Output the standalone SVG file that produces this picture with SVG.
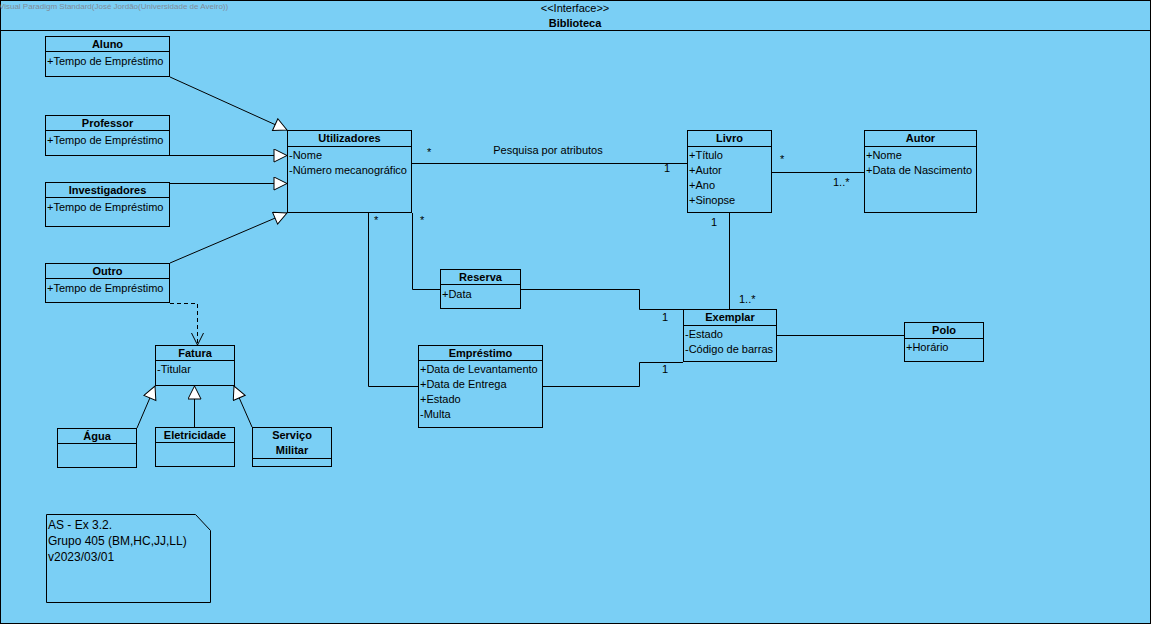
<svg xmlns="http://www.w3.org/2000/svg" width="1154" height="628" viewBox="0 0 1154 628">
<style>
text{font-family:"Liberation Sans",Arial,sans-serif;font-size:11px;fill:#000}
.t{font-weight:bold;text-anchor:middle}
.box{fill:#7acff5;stroke:#000;stroke-width:1}
.ln{fill:none;stroke:#000;stroke-width:1}
.dash{fill:none;stroke:#000;stroke-width:1;stroke-dasharray:4,3}
.m{font-size:11px}
</style>
<defs>
<marker id="gen" markerUnits="userSpaceOnUse" markerWidth="16" markerHeight="16" viewBox="0 0 16 16" refX="14" refY="7" orient="auto">
<path d="M1,0.5 L14,7 L1,13.5 Z" fill="#fff" stroke="#000" stroke-width="1"/>
</marker>
<marker id="open" markerUnits="userSpaceOnUse" markerWidth="16" markerHeight="16" viewBox="0 0 16 16" refX="13" refY="7" orient="auto">
<path d="M1,1 L13,7 L1,13" fill="none" stroke="#000" stroke-width="1"/>
</marker>
</defs>
<rect x="0" y="0" width="1154" height="628" fill="#fff"/>
<g id="frame">
<rect x="0.5" y="0.5" width="1150" height="623" fill="#7acff5" stroke="#000"/>
<line x1="0.5" y1="30.5" x2="1150.5" y2="30.5" stroke="#000"/>
<text x="-1" y="9" style="font-size:8px;fill:#7f8c99">Visual Paradigm Standard(José Jordão(Universidade de Aveiro))</text>
<text x="575" y="11.5" style="text-anchor:middle">&lt;&lt;Interface&gt;&gt;</text>
<text x="575" y="27" class="t">Biblioteca</text>
</g>
<g id="connectors">
<path class="ln" d="M170,77 L287,130" marker-end="url(#gen)"/>
<path class="ln" d="M170,155.5 L287,155.5" marker-end="url(#gen)"/>
<path class="ln" d="M170,183.5 L287,183.5" marker-end="url(#gen)"/>
<path class="ln" d="M170,263 L287,213" marker-end="url(#gen)"/>
<path class="ln" d="M137,428 L155,386" marker-end="url(#gen)"/>
<path class="ln" d="M194.5,427 L194.5,386" marker-end="url(#gen)"/>
<path class="ln" d="M252,427 L234,386" marker-end="url(#gen)"/>
<path class="dash" d="M170,303.5 L197.5,303.5 L197.5,345" marker-end="url(#open)"/>
<path class="ln" d="M412,163.5 L687,163.5"/>
<path class="ln" d="M772,172.5 L864,172.5"/>
<path class="ln" d="M729.5,213 L729.5,309"/>
<path class="ln" d="M412.5,213 L412.5,289.5 L440,289.5"/>
<path class="ln" d="M521,289.5 L639.5,289.5 L639.5,309.5 L683,309.5"/>
<path class="ln" d="M368.5,213 L368.5,386.5 L418,386.5"/>
<path class="ln" d="M543,386.5 L639.5,386.5 L639.5,362.5 L683,362.5"/>
<path class="ln" d="M777,335.5 L904,335.5"/>
<text x="548" y="154" style="text-anchor:middle">Pesquisa por atributos</text>
<text x="427" y="156" class="m">*</text>
<text x="664" y="172" class="m">1</text>
<text x="780" y="163" class="m">*</text>
<text x="833" y="186" class="m">1..*</text>
<text x="711" y="226" class="m">1</text>
<text x="739" y="303" class="m">1..*</text>
<text x="420" y="224" class="m">*</text>
<text x="374" y="224" class="m">*</text>
<text x="662" y="321" class="m">1</text>
<text x="662" y="373" class="m">1</text>
</g>
<g id="Aluno">
<rect class="box" x="45.5" y="36.5" width="124" height="40"/>
<line class="ln" x1="45.5" y1="51.5" x2="169.5" y2="51.5"/>
<text x="107.5" y="47.5" class="t">Aluno</text>
<text x="47" y="65">+Tempo de Empréstimo</text>
</g>
<g id="Professor">
<rect class="box" x="45.5" y="115.5" width="124" height="40"/>
<line class="ln" x1="45.5" y1="130.5" x2="169.5" y2="130.5"/>
<text x="107.5" y="126.5" class="t">Professor</text>
<text x="47" y="144">+Tempo de Empréstimo</text>
</g>
<g id="Investigadores">
<rect class="box" x="45.5" y="182.5" width="124" height="44"/>
<line class="ln" x1="45.5" y1="197.5" x2="169.5" y2="197.5"/>
<text x="107.5" y="193.5" class="t">Investigadores</text>
<text x="47" y="211">+Tempo de Empréstimo</text>
</g>
<g id="Outro">
<rect class="box" x="45.5" y="263.5" width="124" height="39"/>
<line class="ln" x1="45.5" y1="278.5" x2="169.5" y2="278.5"/>
<text x="107.5" y="274.5" class="t">Outro</text>
<text x="47" y="292">+Tempo de Empréstimo</text>
</g>
<g id="Utilizadores">
<rect class="box" x="287.5" y="130.5" width="124" height="82"/>
<line class="ln" x1="287.5" y1="146.5" x2="411.5" y2="146.5"/>
<text x="349.5" y="142" class="t">Utilizadores</text>
<text x="289" y="159">-Nome</text>
<text x="289" y="174">-Número mecanográfico</text>
</g>
<g id="Livro">
<rect class="box" x="687.5" y="130.5" width="84" height="82"/>
<line class="ln" x1="687.5" y1="146.5" x2="771.5" y2="146.5"/>
<text x="729.5" y="142" class="t">Livro</text>
<text x="689" y="159">+Título</text>
<text x="689" y="174">+Autor</text>
<text x="689" y="189">+Ano</text>
<text x="689" y="204">+Sinopse</text>
</g>
<g id="Autor">
<rect class="box" x="864.5" y="130.5" width="112" height="82"/>
<line class="ln" x1="864.5" y1="146.5" x2="976.5" y2="146.5"/>
<text x="920.5" y="142" class="t">Autor</text>
<text x="866" y="159">+Nome</text>
<text x="866" y="174">+Data de Nascimento</text>
</g>
<g id="Reserva">
<rect class="box" x="440.5" y="269.5" width="80" height="39"/>
<line class="ln" x1="440.5" y1="284.5" x2="520.5" y2="284.5"/>
<text x="480.5" y="280.5" class="t">Reserva</text>
<text x="442" y="298">+Data</text>
</g>
<g id="Exemplar">
<rect class="box" x="683.5" y="309.5" width="93" height="52"/>
<line class="ln" x1="683.5" y1="325.5" x2="776.5" y2="325.5"/>
<text x="730" y="321" class="t">Exemplar</text>
<text x="685" y="338">-Estado</text>
<text x="685" y="353">-Código de barras</text>
</g>
<g id="Emprestimo">
<rect class="box" x="418.5" y="345.5" width="124" height="82"/>
<line class="ln" x1="418.5" y1="360.5" x2="542.5" y2="360.5"/>
<text x="480.5" y="356.5" class="t">Empréstimo</text>
<text x="420" y="373">+Data de Levantamento</text>
<text x="420" y="388">+Data de Entrega</text>
<text x="420" y="403">+Estado</text>
<text x="420" y="418">-Multa</text>
</g>
<g id="Polo">
<rect class="box" x="904.5" y="322.5" width="79" height="39"/>
<line class="ln" x1="904.5" y1="338.5" x2="983.5" y2="338.5"/>
<text x="944" y="333.5" class="t">Polo</text>
<text x="906" y="351">+Horário</text>
</g>
<g id="Fatura">
<rect class="box" x="155.5" y="345.5" width="79" height="40"/>
<line class="ln" x1="155.5" y1="360.5" x2="234.5" y2="360.5"/>
<text x="195" y="356.5" class="t">Fatura</text>
<text x="157" y="373">-Titular</text>
</g>
<g id="Agua">
<rect class="box" x="57.5" y="428.5" width="79" height="39"/>
<line class="ln" x1="57.5" y1="443.5" x2="136.5" y2="443.5"/>
<text x="97" y="440" class="t">Água</text>
</g>
<g id="Eletricidade">
<rect class="box" x="155.5" y="427.5" width="79" height="39"/>
<line class="ln" x1="155.5" y1="442.5" x2="234.5" y2="442.5"/>
<text x="195" y="439" class="t">Eletricidade</text>
</g>
<g id="ServicoMilitar">
<rect class="box" x="252.5" y="427.5" width="79" height="39"/>
<line class="ln" x1="252.5" y1="458.5" x2="331.5" y2="458.5"/>
<text x="292" y="439" class="t">Serviço</text>
<text x="292" y="454" class="t">Militar</text>
</g>
<g id="Note">
<path class="box" d="M46.5,514.5 L195.5,514.5 L210.5,530.5 L210.5,602.5 L46.5,602.5 Z"/>
<text x="48" y="529" style="font-size:12px">AS - Ex 3.2.</text>
<text x="48" y="545" style="font-size:12px">Grupo 405 (BM,HC,JJ,LL)</text>
<text x="48" y="561" style="font-size:12px">v2023/03/01</text>
</g>
</svg>
